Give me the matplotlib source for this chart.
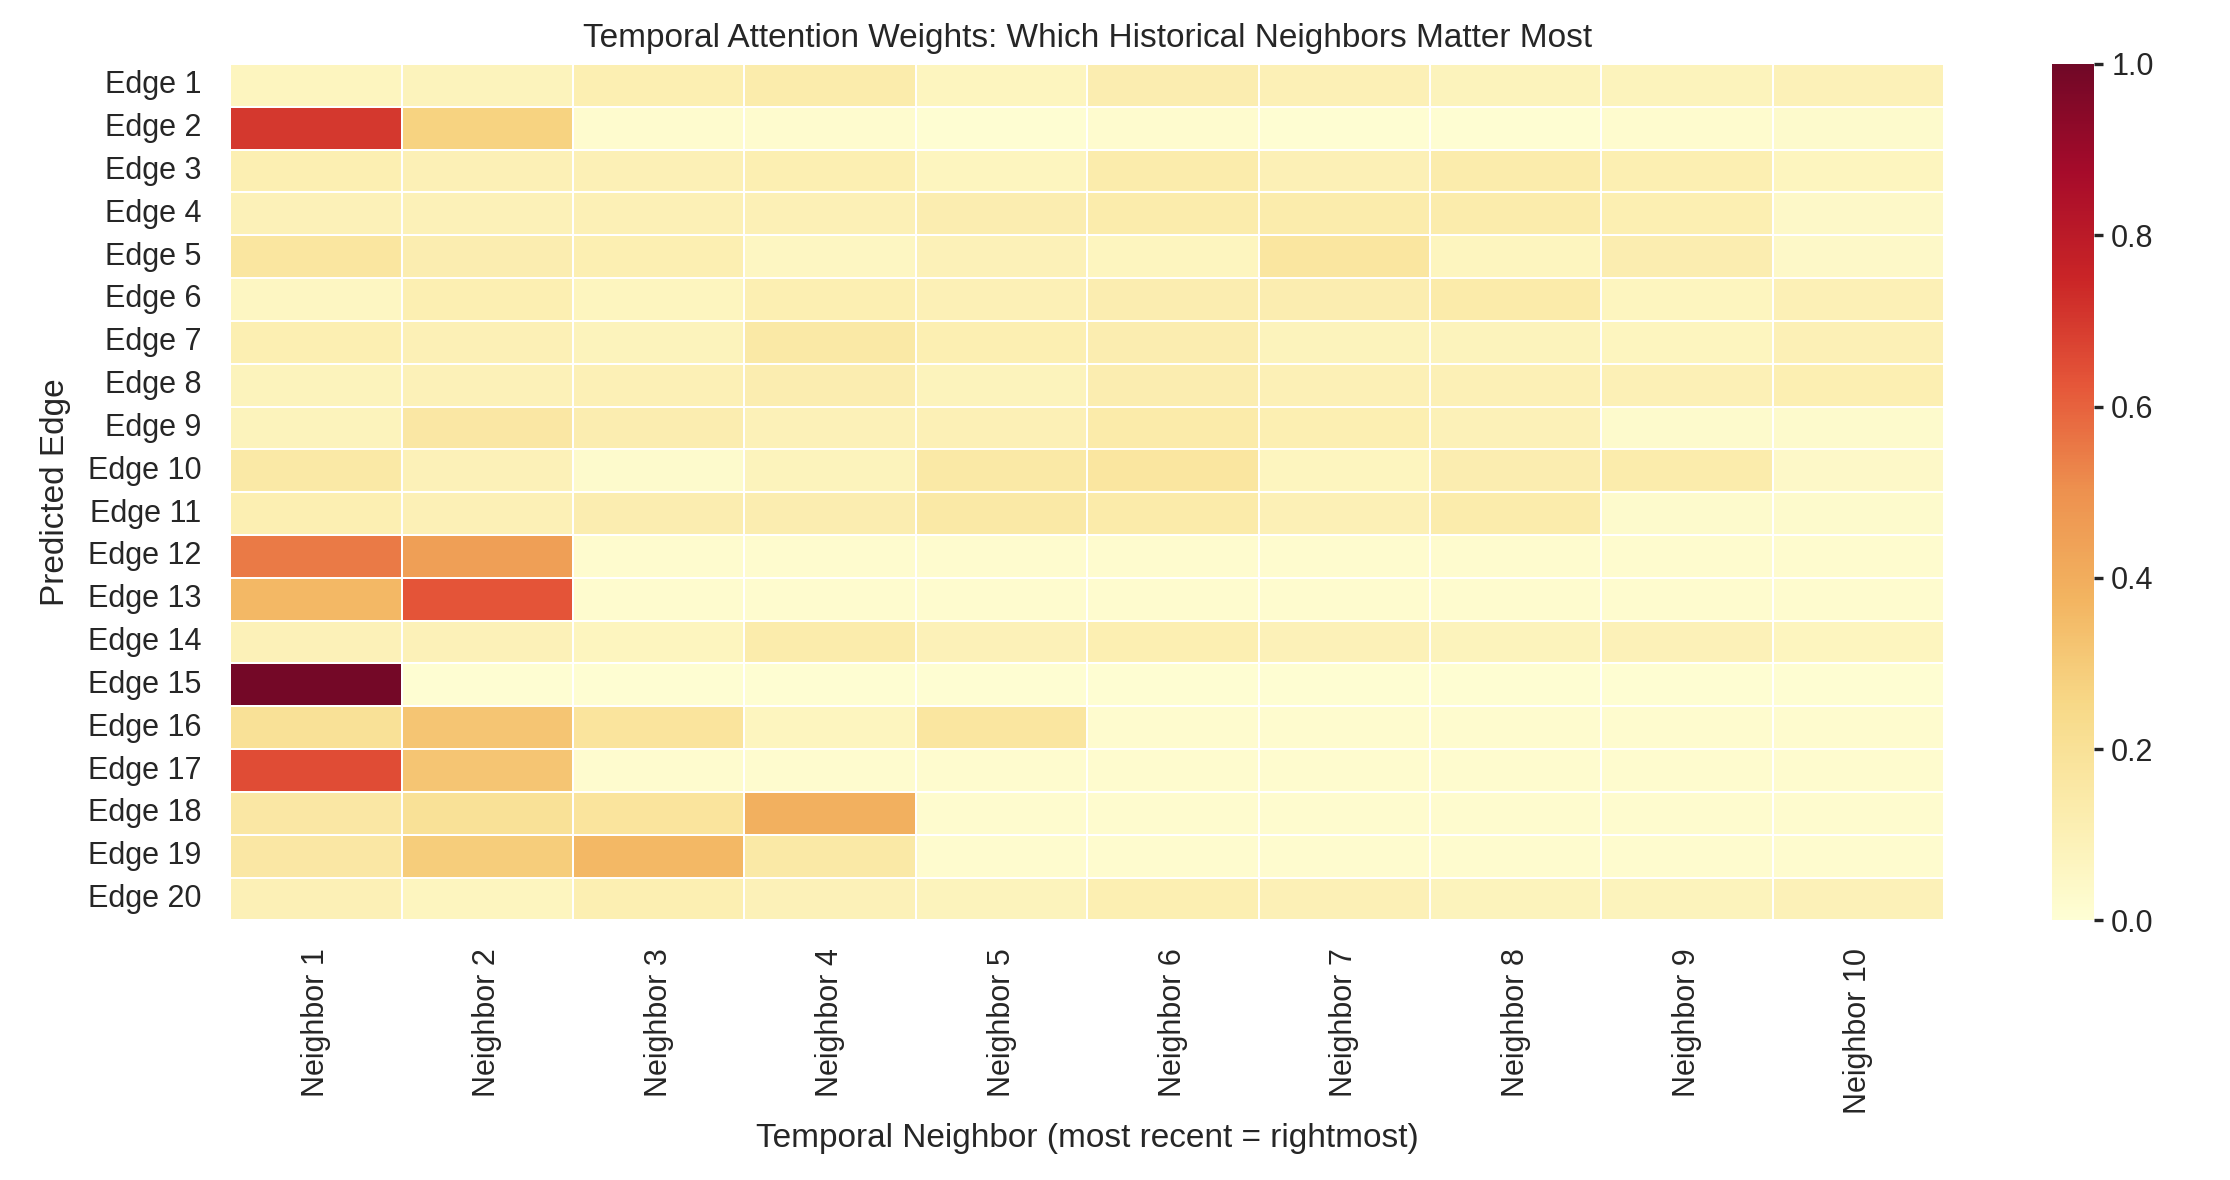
import matplotlib
matplotlib.use("Agg")
import matplotlib.pyplot as plt
from matplotlib.colors import ListedColormap
import numpy as np
import seaborn as sns

edges = [f"Edge {i}" for i in range(1, 21)]
neighbors = [f"Neighbor {j}" for j in range(1, 11)]

# attention weights, rows = predicted edges, columns = temporal neighbors
weights = [
    [0.07, 0.08, 0.11, 0.13, 0.07, 0.12, 0.10, 0.08, 0.08, 0.09],  # Edge 1
    [0.70, 0.27, 0.02, 0.02, 0.01, 0.02, 0.01, 0.01, 0.02, 0.03],  # Edge 2
    [0.11, 0.10, 0.10, 0.11, 0.07, 0.13, 0.10, 0.13, 0.11, 0.07],  # Edge 3
    [0.09, 0.09, 0.10, 0.10, 0.12, 0.13, 0.13, 0.13, 0.11, 0.04],  # Edge 4
    [0.17, 0.12, 0.11, 0.06, 0.09, 0.07, 0.17, 0.07, 0.12, 0.04],  # Edge 5
    [0.06, 0.11, 0.07, 0.11, 0.10, 0.12, 0.12, 0.14, 0.07, 0.10],  # Edge 6
    [0.11, 0.10, 0.08, 0.15, 0.11, 0.12, 0.08, 0.08, 0.07, 0.10],  # Edge 7
    [0.08, 0.09, 0.10, 0.12, 0.08, 0.12, 0.10, 0.10, 0.10, 0.11],  # Edge 8
    [0.08, 0.16, 0.12, 0.09, 0.10, 0.14, 0.11, 0.09, 0.03, 0.03],  # Edge 9
    [0.15, 0.09, 0.03, 0.08, 0.15, 0.17, 0.07, 0.12, 0.13, 0.04],  # Edge 10
    [0.11, 0.10, 0.12, 0.12, 0.15, 0.14, 0.10, 0.13, 0.03, 0.03],  # Edge 11
    [0.55, 0.45, 0.02, 0.02, 0.02, 0.02, 0.02, 0.02, 0.02, 0.02],  # Edge 12
    [0.36, 0.63, 0.02, 0.02, 0.02, 0.02, 0.02, 0.02, 0.02, 0.02],  # Edge 13
    [0.09, 0.09, 0.07, 0.13, 0.09, 0.11, 0.09, 0.08, 0.09, 0.07],  # Edge 14
    [0.99, 0.01, 0.01, 0.01, 0.01, 0.01, 0.01, 0.01, 0.01, 0.01],  # Edge 15
    [0.20, 0.32, 0.18, 0.07, 0.17, 0.02, 0.02, 0.02, 0.02, 0.02],  # Edge 16
    [0.65, 0.32, 0.02, 0.02, 0.02, 0.02, 0.02, 0.02, 0.02, 0.02],  # Edge 17
    [0.16, 0.20, 0.18, 0.39, 0.02, 0.02, 0.02, 0.02, 0.02, 0.02],  # Edge 18
    [0.16, 0.29, 0.36, 0.15, 0.02, 0.02, 0.02, 0.02, 0.02, 0.02],  # Edge 19
    [0.10, 0.07, 0.11, 0.09, 0.08, 0.11, 0.10, 0.08, 0.08, 0.09],  # Edge 20
]

sns.set_theme(style="white")
plt.rcParams["font.family"] = ["Liberation Sans", "DejaVu Sans"]
text_color = "#262626"

# YlOrRd, slightly desaturated to match the reference rendering
base = plt.get_cmap("YlOrRd")(np.linspace(0, 1, 256))[:, :3]
lum = (0.3 * base[:, 0] + 0.59 * base[:, 1] + 0.11 * base[:, 2])[:, None]
sat = 0.82
cmap = ListedColormap(np.clip(sat * base + (1 - sat) * lum, 0, 1))

fig = plt.figure(figsize=(11.15, 5.9), dpi=200)
ax = fig.add_axes([0.1033, 0.220, 0.7685, 0.7258])
cax = fig.add_axes([0.920, 0.220, 0.019, 0.7258])

sns.heatmap(np.array(weights), ax=ax, cbar_ax=cax, cmap=cmap, vmin=0, vmax=1,
            linewidths=0.6, linecolor="white",
            xticklabels=neighbors, yticklabels=edges)

ax.tick_params(axis="both", length=0, labelsize=11, colors=text_color)
ax.tick_params(axis="y", pad=10.5)
ax.tick_params(axis="x", pad=10)
plt.setp(ax.get_xticklabels(), rotation=90)
plt.setp(ax.get_yticklabels(), rotation=0)

ax.set_title("Temporal Attention Weights: Which Historical Neighbors Matter Most",
             fontsize=12, color=text_color, pad=6)
ax.set_xlabel("Temporal Neighbor (most recent = rightmost)", fontsize=12, color=text_color)
ax.set_ylabel("Predicted Edge", fontsize=12, color=text_color)
ax.xaxis.set_label_coords(0.5, -0.236)
ax.yaxis.set_label_coords(-0.093, 0.5)

cax.tick_params(length=3.2, width=1.2, labelsize=11, colors=text_color, pad=3)
cax.set_yticks([0.0, 0.2, 0.4, 0.6, 0.8, 1.0])
for s in cax.spines.values():
    s.set_visible(False)

fig.savefig("out.png", dpi=200)
